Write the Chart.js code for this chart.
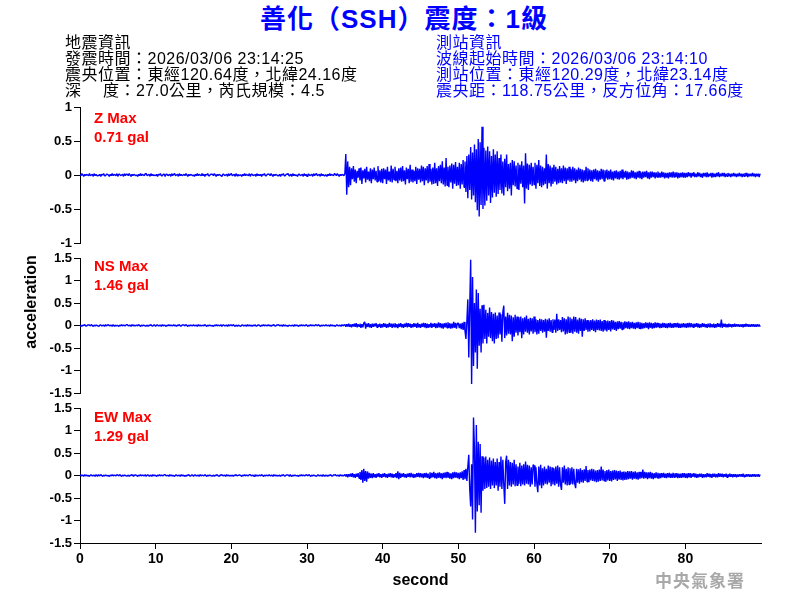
<!DOCTYPE html>
<html>
<head>
<meta charset="utf-8">
<script src="https://cdn.jsdelivr.net/npm/chart.js@4.4.1/dist/chart.umd.min.js"></script>
<style>
  body { margin: 0; background: #fff; }
  #page { position: relative; width: 800px; height: 600px; overflow: hidden;
          font-family: "Liberation Sans", Arial, "Noto Sans CJK TC", sans-serif; }
  canvas { position: absolute; left: 0; }
  .txt { position: absolute; white-space: pre; }
  #title { left: 0; width: 808px; top: 4px; line-height: 30px; text-align: center;
           font-size: 26px; font-weight: bold; color: #0000ff; letter-spacing: 1px; }
  .info { top: 35px; font-size: 16px; line-height: 16px; letter-spacing: 0.5px; }
  #quake { left: 65px; color: #000; }
  #station { left: 436px; color: #0000ff; }
  .peak { left: 94px; font-size: 15px; line-height: 19px; font-weight: bold; color: #ff0000; }
  #yTitle { left: -29px; top: 292px; width: 120px; height: 20px; line-height: 20px; text-align: center;
            font-size: 16px; font-weight: bold; transform: rotate(-90deg); }
  #mark { left: 655px; top: 569px; font-family: "Noto Sans CJK TC", sans-serif; font-size: 17px;
          font-weight: bold; color: #a8a8a8; letter-spacing: 1px; line-height: 22px; }
</style>
</head>
<body>
<div id="page">
  <canvas id="chartZ" width="800" height="170" style="top:90px"></canvas>
  <canvas id="chartNS" width="800" height="160" style="top:246px"></canvas>
  <canvas id="chartEW" width="800" height="204" style="top:396px"></canvas>

  <div id="title" class="txt">善化（SSH）震度：1級</div>
  <div id="quake" class="txt info">地震資訊
發震時間：2026/03/06 23:14:25
震央位置：東經120.64度，北緯24.16度
深　 度：27.0公里，芮氏規模：4.5</div>
  <div id="station" class="txt info">測站資訊
波線起始時間：2026/03/06 23:14:10
測站位置：東經120.29度，北緯23.14度
震央距：118.75公里，反方位角：17.66度</div>

  <div class="txt peak" style="top:108px">Z Max
0.71 gal</div>
  <div class="txt peak" style="top:256px">NS Max
1.46 gal</div>
  <div class="txt peak" style="top:407px">EW Max
1.29 gal</div>

  <div id="yTitle" class="txt">acceleration</div>
  <div id="mark" class="txt">中央氣象署</div>
</div>

<script>
// samples every 0.125 s, 10 values per line, 4 lines = 5 seconds
const SAMPLE_STEP = 0.125;

const zAccel = [
  // 0-5 s
  0.01,-0.01,0.02,0,-0.02,0.01,-0.01,0.01,0,-0.01,
  0.02,-0.01,0,0.01,-0.02,0.02,-0.01,0.01,-0.01,0,
  -0.01,0.01,-0.02,0.01,0,0.02,-0.01,-0.01,0.01,0.01,
  0,-0.02,0.01,-0.01,0.02,-0.01,0.01,0,-0.01,0.02,
  // 5-10 s
  -0.02,0.01,0.01,-0.01,0,0.01,-0.02,0.02,-0.01,0.01,
  0.01,-0.01,0.02,0,-0.02,0.01,-0.01,0.01,0,-0.01,
  0,-0.02,0.01,-0.01,0.02,-0.01,0.01,0,-0.01,0.02,
  0.02,-0.01,0,0.01,-0.02,0.02,-0.01,0.01,-0.01,0,
  // 10-15 s
  -0.01,0.01,-0.02,0.01,0,0.02,-0.01,-0.01,0.01,0.01,
  -0.02,0.01,0.01,-0.01,0,0.01,-0.02,0.02,-0.01,0.01,
  0.02,-0.01,0,0.01,-0.02,0.02,-0.01,0.01,-0.01,0,
  0.01,-0.01,0.02,0,-0.02,0.01,-0.01,0.01,0,-0.01,
  // 15-20 s
  0,-0.02,0.01,-0.01,0.02,-0.01,0.01,0,-0.01,0.02,
  -0.01,0.01,-0.02,0.01,0,0.02,-0.01,-0.01,0.01,0.01,
  0.01,-0.01,0.02,0,-0.02,0.01,-0.01,0.01,0,-0.01,
  -0.02,0.01,0.01,-0.01,0,0.01,-0.02,0.02,-0.01,0.01,
  // 20-25 s
  0.02,-0.01,0,0.01,-0.02,0.02,-0.01,0.01,-0.01,0,
  0,-0.02,0.01,-0.01,0.02,-0.01,0.01,0,-0.01,0.02,
  -0.02,0.01,0.01,-0.01,0,0.01,-0.02,0.02,-0.01,0.01,
  -0.01,0.01,-0.02,0.01,0,0.02,-0.01,-0.01,0.01,0.01,
  // 25-30 s
  0.01,-0.01,0.02,0,-0.02,0.01,-0.01,0.01,0,-0.01,
  -0.01,0.01,-0.02,0.01,0,0.02,-0.01,-0.01,0.01,0.01,
  0.02,-0.01,0,0.01,-0.02,0.02,-0.01,0.01,-0.01,0,
  -0.02,0.01,0.01,-0.01,0,0.01,-0.02,0.02,-0.01,0.01,
  // 30-35 s
  -0.02,0.01,0.01,-0.01,0,0.01,-0.02,0.02,-0.01,0.01,
  0.02,-0.01,0,0.01,-0.02,0.02,-0.01,0.01,-0.01,0,
  0,-0.02,0.01,-0.01,0.02,-0.01,0.01,0,-0.01,0.02,
  0.01,-0.01,0.02,0,-0.02,0.01,-0.01,0.01,0,-0.01,
  // 35-40 s
  0.02,0.31,-0.29,0.2,-0.18,0.12,-0.15,0.1,-0.06,0.13,
  -0.1,0.08,-0.12,0.06,-0.04,0.1,-0.08,0.11,-0.13,0.07,
  -0.05,0.09,-0.11,0.12,-0.07,0.05,-0.09,0.1,-0.12,0.08,
  -0.06,0.11,-0.08,0.06,-0.1,0.13,-0.09,0.07,-0.11,0.09,
  // 40-45 s
  -0.12,0.1,-0.06,0.08,-0.13,0.12,-0.08,0.05,-0.1,0.14,
  -0.11,0.09,-0.07,0.12,-0.09,0.06,-0.12,0.1,-0.08,0.11,
  -0.1,0.13,-0.09,0.07,-0.14,0.11,-0.06,0.09,-0.12,0.15,
  -0.1,0.08,-0.11,0.06,-0.09,0.12,-0.13,0.1,-0.07,0.09,
  // 45-50 s
  -0.11,0.14,-0.09,0.12,-0.15,0.1,-0.08,0.13,-0.12,0.16,
  -0.1,0.09,-0.14,0.11,-0.13,0.18,-0.12,0.1,-0.16,0.13,
  -0.09,0.15,-0.12,0.2,-0.14,0.11,-0.17,0.25,-0.15,0.12,
  -0.18,0.14,-0.11,0.17,-0.2,0.15,-0.13,0.19,-0.16,0.12,
  // 50-55 s
  -0.15,0.18,-0.2,0.16,-0.14,0.22,-0.18,0.2,-0.25,0.28,
  -0.34,0.3,-0.22,0.41,-0.36,0.33,-0.3,0.45,-0.4,0.38,
  -0.52,0.53,-0.61,0.48,-0.44,0.71,-0.5,0.4,-0.45,0.36,
  -0.38,0.42,-0.3,0.35,-0.41,0.28,-0.33,0.38,-0.26,0.3,
  // 55-60 s
  -0.32,0.35,-0.28,0.25,-0.22,0.3,-0.27,0.2,-0.3,0.24,
  -0.18,0.3,-0.24,0.16,-0.2,0.18,-0.3,0.22,-0.15,0.2,
  -0.17,0.14,-0.2,0.18,-0.22,0.15,-0.13,0.2,-0.18,0.14,
  -0.42,0.32,-0.2,0.17,-0.22,0.15,-0.14,0.18,-0.16,0.12,
  // 60-65 s
  -0.14,0.18,-0.2,0.15,-0.12,0.22,-0.16,0.14,-0.18,0.12,
  -0.15,0.1,-0.13,0.3,-0.2,0.16,-0.12,0.14,-0.17,0.11,
  -0.13,0.15,-0.1,0.12,-0.14,0.09,-0.12,0.13,-0.11,0.1,
  -0.12,0.14,-0.09,0.11,-0.13,0.1,-0.08,0.12,-0.1,0.09,
  // 65-70 s
  -0.1,0.12,-0.08,0.1,-0.12,0.08,-0.09,0.11,-0.07,0.09,
  -0.1,0.08,-0.11,0.07,-0.09,0.12,-0.08,0.1,-0.07,0.08,
  -0.09,0.07,-0.1,0.08,-0.06,0.09,-0.08,0.07,-0.1,0.06,
  -0.07,0.09,-0.06,0.08,-0.09,0.07,-0.05,0.08,-0.07,0.06,
  // 70-75 s
  -0.06,0.08,-0.07,0.05,-0.08,0.06,-0.05,0.07,-0.06,0.05,
  -0.07,0.06,-0.05,0.08,-0.06,0.05,-0.04,0.06,-0.07,0.05,
  -0.06,0.04,-0.05,0.07,-0.04,0.06,-0.05,0.04,-0.06,0.05,
  -0.04,0.06,-0.05,0.04,-0.06,0.05,-0.04,0.05,-0.03,0.06,
  // 75-80 s
  -0.05,0.04,-0.06,0.05,-0.04,0.05,-0.03,0.04,-0.05,0.04,
  -0.03,0.05,-0.04,0.03,-0.04,0.05,-0.03,0.04,-0.05,0.03,
  -0.04,0.03,-0.05,0.04,-0.03,0.04,-0.04,0.05,-0.03,0.04,
  -0.03,0.04,-0.05,0.03,-0.04,0.03,-0.03,0.04,-0.04,0.03,
  // 80-85 s
  -0.04,0.03,-0.03,0.04,-0.02,0.03,-0.04,0.03,-0.02,0.04,
  -0.03,0.02,-0.03,0.04,-0.02,0.03,-0.03,0.02,-0.04,0.03,
  -0.02,0.03,-0.03,0.04,-0.03,0.02,-0.02,0.03,-0.04,0.03,
  -0.03,0.02,-0.03,0.03,-0.02,0.04,-0.03,0.02,-0.02,0.03,
  // 85-90 s
  -0.02,0.03,-0.03,0.02,-0.02,0.03,-0.02,0.02,-0.03,0.02,
  -0.02,0.03,-0.02,0.02,-0.03,0.02,-0.02,0.03,-0.02,0.02,
  -0.03,0.02,-0.02,0.03,-0.02,0.03,-0.03,0.02,-0.02,0.02,
  -0.02,0.03,-0.02,0.02,-0.03,0.02,-0.02,0.02,-0.03,0.02
];

const nsAccel = [
  // 0-5 s
  -0.01,0.01,-0.02,0.01,0,0.02,-0.01,-0.01,0.01,0.01,
  0.01,-0.01,0.02,0,-0.02,0.01,-0.01,0.01,0,-0.01,
  -0.02,0.01,0.01,-0.01,0,0.01,-0.02,0.02,-0.01,0.01,
  0.02,-0.01,0,0.01,-0.02,0.02,-0.01,0.01,-0.01,0,
  // 5-10 s
  0,-0.02,0.01,-0.01,0.02,-0.01,0.01,0,-0.01,0.02,
  0.02,-0.01,0,0.01,-0.02,0.02,-0.01,0.01,-0.01,0,
  0.01,-0.01,0.02,0,-0.02,0.01,-0.01,0.01,0,-0.01,
  -0.01,0.01,-0.02,0.01,0,0.02,-0.01,-0.01,0.01,0.01,
  // 10-15 s
  -0.02,0.01,0.01,-0.01,0,0.01,-0.02,0.02,-0.01,0.01,
  0,-0.02,0.01,-0.01,0.02,-0.01,0.01,0,-0.01,0.02,
  -0.01,0.01,-0.02,0.01,0,0.02,-0.01,-0.01,0.01,0.01,
  0.01,-0.01,0.02,0,-0.02,0.01,-0.01,0.01,0,-0.01,
  // 15-20 s
  0.02,-0.01,0,0.01,-0.02,0.02,-0.01,0.01,-0.01,0,
  0.01,-0.01,0.02,0,-0.02,0.01,-0.01,0.01,0,-0.01,
  0,-0.02,0.01,-0.01,0.02,-0.01,0.01,0,-0.01,0.02,
  -0.02,0.01,0.01,-0.01,0,0.01,-0.02,0.02,-0.01,0.01,
  // 20-25 s
  0.01,-0.01,0.02,0,-0.02,0.01,-0.01,0.01,0,-0.01,
  -0.02,0.01,0.01,-0.01,0,0.01,-0.02,0.02,-0.01,0.01,
  -0.01,0.01,-0.02,0.01,0,0.02,-0.01,-0.01,0.01,0.01,
  0,-0.02,0.01,-0.01,0.02,-0.01,0.01,0,-0.01,0.02,
  // 25-30 s
  -0.01,0.01,-0.02,0.01,0,0.02,-0.01,-0.01,0.01,0.01,
  0.02,-0.01,0,0.01,-0.02,0.02,-0.01,0.01,-0.01,0,
  -0.02,0.01,0.01,-0.01,0,0.01,-0.02,0.02,-0.01,0.01,
  0,-0.02,0.01,-0.01,0.02,-0.01,0.01,0,-0.01,0.02,
  // 30-35 s
  0,-0.02,0.01,-0.01,0.02,-0.01,0.01,0,-0.01,0.02,
  0.01,-0.01,0.02,0,-0.02,0.01,-0.01,0.01,0,-0.01,
  0.02,-0.01,0,0.01,-0.02,0.02,-0.01,0.01,-0.01,0,
  -0.02,0.01,0.01,-0.01,0,0.01,-0.02,0.02,-0.01,0.01,
  // 35-40 s
  0.02,-0.03,0.03,-0.02,0.04,-0.03,0.02,-0.04,0.03,-0.02,
  0.04,-0.03,0.05,-0.04,0.03,-0.02,0.04,-0.05,0.03,-0.04,
  0.05,0.08,-0.07,0.04,-0.03,0.05,-0.04,0.03,-0.05,0.04,
  -0.03,0.04,-0.02,0.05,-0.04,0.03,-0.03,0.04,-0.05,0.03,
  // 40-45 s
  -0.04,0.05,-0.03,0.04,-0.05,0.03,-0.04,0.06,-0.03,0.04,
  -0.05,0.04,-0.03,0.05,-0.04,0.03,-0.06,0.04,-0.03,0.05,
  -0.04,0.03,-0.05,0.04,-0.03,0.06,-0.04,0.05,-0.03,0.04,
  -0.05,0.03,-0.04,0.05,-0.03,0.04,-0.05,0.06,-0.04,0.03,
  // 45-50 s
  -0.05,0.04,-0.03,0.06,-0.04,0.05,-0.06,0.04,-0.05,0.03,
  -0.04,0.06,-0.05,0.04,-0.03,0.05,-0.06,0.04,-0.05,0.07,
  -0.04,0.05,-0.06,0.04,-0.07,0.05,-0.04,0.06,-0.05,0.07,
  -0.06,0.05,-0.07,0.04,-0.06,0.08,-0.05,0.06,-0.07,0.05,
  // 50-55 s
  0.05,-0.06,0.04,-0.08,0.06,-0.1,0.08,-0.12,-0.3,0.1,
  0.58,-0.71,0.4,1.46,-1.3,1.08,-0.9,0.5,-0.6,0.8,
  -0.96,0.72,-0.45,0.37,-0.6,0.45,-0.4,0.46,-0.3,0.35,
  -0.4,0.28,-0.25,0.4,-0.28,0.3,-0.35,0.26,-0.4,0.29,
  // 55-60 s
  -0.3,0.22,-0.28,0.29,-0.2,0.25,-0.36,0.3,0.44,-0.28,
  0.2,-0.22,0.28,-0.18,0.24,-0.2,0.22,-0.35,0.18,-0.25,
  0.24,-0.16,0.2,-0.22,0.18,-0.15,0.2,-0.28,0.16,-0.2,
  0.18,-0.14,0.22,-0.16,0.15,-0.2,0.17,-0.13,0.16,-0.18,
  // 60-65 s
  0.2,-0.15,0.14,-0.2,0.12,-0.18,0.15,-0.12,0.14,-0.16,
  0.12,-0.14,0.15,-0.27,0.13,-0.12,0.16,-0.14,0.12,-0.15,
  0.14,-0.1,0.13,-0.16,0.26,-0.12,0.14,-0.1,0.12,-0.15,
  0.19,-0.13,0.16,-0.2,0.14,-0.18,0.2,-0.15,0.18,-0.16,
  // 65-70 s
  0.15,-0.18,0.2,-0.14,0.19,-0.16,0.13,-0.18,0.17,-0.12,
  0.15,-0.25,0.14,-0.12,0.16,-0.1,0.12,-0.14,0.11,-0.13,
  0.12,-0.1,0.14,-0.12,0.11,-0.15,0.13,-0.1,0.12,-0.11,
  0.13,-0.12,0.1,-0.14,0.12,-0.11,0.1,-0.13,0.11,-0.1,
  // 70-75 s
  0.1,-0.13,0.12,-0.09,0.11,-0.1,0.08,-0.12,0.09,-0.08,
  0.1,-0.07,0.08,-0.09,0.07,-0.08,0.09,-0.06,0.08,-0.07,
  0.09,-0.08,0.07,-0.06,0.08,-0.07,0.06,-0.08,0.07,-0.06,
  0.08,-0.06,0.07,-0.08,0.06,-0.07,0.05,-0.06,0.07,-0.05,
  // 75-80 s
  0.06,-0.08,0.07,-0.05,0.06,-0.07,0.05,-0.06,0.07,-0.05,
  0.06,-0.04,0.05,-0.06,0.04,-0.05,0.06,-0.04,0.05,-0.05,
  0.04,-0.06,0.05,-0.04,0.06,-0.05,0.04,-0.05,0.05,-0.04,
  0.05,-0.04,0.06,-0.05,0.04,-0.05,0.04,-0.04,0.05,-0.04,
  // 80-85 s
  0.04,-0.05,0.05,-0.04,0.06,-0.04,0.05,-0.03,0.04,-0.05,
  0.04,-0.03,0.05,-0.04,0.04,-0.05,0.03,-0.04,0.05,-0.03,
  0.04,-0.04,0.03,-0.05,0.04,-0.03,0.05,-0.04,0.03,-0.04,
  0.04,-0.05,0.03,-0.04,0.05,-0.03,0.04,-0.04,0.13,-0.05,
  // 85-90 s
  0.04,-0.03,0.04,-0.04,0.03,-0.04,0.04,-0.03,0.03,-0.04,
  0.03,-0.03,0.04,-0.03,0.03,-0.02,0.03,-0.03,0.02,-0.03,
  0.03,-0.04,0.03,-0.03,0.04,-0.02,0.03,-0.03,0.02,-0.03,
  0.03,-0.02,0.03,-0.03,0.02,-0.03,0.03,-0.02,0.02,-0.03
];

const ewAccel = [
  // 0-5 s
  0.02,-0.01,0,0.01,-0.02,0.02,-0.01,0.01,-0.01,0,
  -0.02,0.01,0.01,-0.01,0,0.01,-0.02,0.02,-0.01,0.01,
  0.01,-0.01,0.02,0,-0.02,0.01,-0.01,0.01,0,-0.01,
  0,-0.02,0.01,-0.01,0.02,-0.01,0.01,0,-0.01,0.02,
  // 5-10 s
  0.01,-0.01,0.02,0,-0.02,0.01,-0.01,0.01,0,-0.01,
  -0.01,0.01,-0.02,0.01,0,0.02,-0.01,-0.01,0.01,0.01,
  0,-0.02,0.01,-0.01,0.02,-0.01,0.01,0,-0.01,0.02,
  -0.02,0.01,0.01,-0.01,0,0.01,-0.02,0.02,-0.01,0.01,
  // 10-15 s
  0,-0.02,0.01,-0.01,0.02,-0.01,0.01,0,-0.01,0.02,
  0.02,-0.01,0,0.01,-0.02,0.02,-0.01,0.01,-0.01,0,
  -0.02,0.01,0.01,-0.01,0,0.01,-0.02,0.02,-0.01,0.01,
  -0.01,0.01,-0.02,0.01,0,0.02,-0.01,-0.01,0.01,0.01,
  // 15-20 s
  -0.02,0.01,0.01,-0.01,0,0.01,-0.02,0.02,-0.01,0.01,
  0.01,-0.01,0.02,0,-0.02,0.01,-0.01,0.01,0,-0.01,
  -0.01,0.01,-0.02,0.01,0,0.02,-0.01,-0.01,0.01,0.01,
  0.02,-0.01,0,0.01,-0.02,0.02,-0.01,0.01,-0.01,0,
  // 20-25 s
  -0.01,0.01,-0.02,0.01,0,0.02,-0.01,-0.01,0.01,0.01,
  0,-0.02,0.01,-0.01,0.02,-0.01,0.01,0,-0.01,0.02,
  0.02,-0.01,0,0.01,-0.02,0.02,-0.01,0.01,-0.01,0,
  0.01,-0.01,0.02,0,-0.02,0.01,-0.01,0.01,0,-0.01,
  // 25-30 s
  0.02,-0.01,0,0.01,-0.02,0.02,-0.01,0.01,-0.01,0,
  -0.01,0.01,-0.02,0.01,0,0.02,-0.01,-0.01,0.01,0.01,
  0.01,-0.01,0.02,0,-0.02,0.01,-0.01,0.01,0,-0.01,
  0,-0.02,0.01,-0.01,0.02,-0.01,0.01,0,-0.01,0.02,
  // 30-35 s
  0.01,-0.01,0.02,0,-0.02,0.01,-0.01,0.01,0,-0.01,
  -0.02,0.01,0.01,-0.01,0,0.01,-0.02,0.02,-0.01,0.01,
  -0.01,0.01,-0.02,0.01,0,0.02,-0.01,-0.01,0.01,0.01,
  0.02,-0.01,0,0.01,-0.02,0.02,-0.01,0.01,-0.01,0,
  // 35-40 s
  0.02,-0.02,0.03,-0.04,0.03,-0.02,0.04,-0.03,0.05,-0.04,
  0.03,-0.05,0.04,-0.03,0.05,-0.06,0.08,-0.1,0.12,-0.16,
  0.15,-0.12,0.1,-0.14,0.09,-0.07,0.06,-0.05,0.04,-0.06,
  0.05,-0.04,0.03,-0.05,0.04,-0.03,0.05,-0.04,0.03,-0.05,
  // 40-45 s
  0.04,-0.03,0.05,-0.04,0.03,-0.05,0.04,-0.03,0.05,-0.04,
  0.04,-0.05,0.03,-0.04,0.05,-0.06,0.09,-0.08,0.06,-0.05,
  0.04,-0.03,0.05,-0.04,0.03,-0.05,0.04,-0.03,0.05,-0.04,
  0.06,-0.03,0.04,-0.05,0.03,-0.04,0.05,-0.03,0.06,-0.04,
  // 45-50 s
  0.05,-0.04,0.04,-0.06,0.05,-0.04,0.06,-0.05,0.04,-0.06,
  0.07,-0.05,0.06,-0.04,0.08,-0.06,0.05,-0.07,0.06,-0.05,
  0.07,-0.06,0.05,-0.08,0.06,-0.05,0.07,-0.06,0.08,-0.05,
  0.06,-0.07,0.05,-0.08,0.07,-0.06,0.08,-0.05,0.07,-0.06,
  // 50-55 s
  0.06,-0.08,0.07,-0.06,0.09,-0.1,0.12,-0.08,0.15,-0.12,
  0.2,0.46,-0.3,-0.69,0.25,-0.98,1.29,0.6,-1.27,1.12,
  -0.8,0.75,-0.66,0.7,-0.83,0.43,-0.34,0.4,-0.3,0.42,
  -0.28,0.35,-0.25,0.4,-0.3,0.33,-0.22,0.38,-0.28,0.3,
  // 55-60 s
  -0.22,0.38,-0.34,0.3,-0.25,0.42,-0.3,0.35,-0.2,-0.63,
  0.3,0.44,-0.3,0.35,-0.22,0.3,-0.25,0.28,-0.2,0.35,
  -0.24,0.25,-0.22,0.2,-0.18,0.28,-0.24,0.22,-0.2,0.25,
  -0.22,0.31,-0.18,0.24,-0.2,0.22,-0.25,0.18,-0.2,0.24,
  // 60-65 s
  0.22,-0.25,0.18,-0.2,-0.37,0.2,-0.22,0.24,-0.28,0.16,
  -0.22,0.2,-0.18,0.15,-0.2,0.22,-0.16,0.2,-0.24,0.18,
  -0.2,0.16,-0.22,0.2,-0.18,0.22,-0.25,0.18,-0.2,-0.32,
  0.18,-0.16,0.22,-0.2,0.15,-0.22,0.18,-0.2,0.16,-0.18,
  // 65-70 s
  0.18,-0.2,0.15,-0.18,-0.28,0.15,-0.16,0.14,-0.18,0.16,
  -0.15,0.12,-0.16,0.14,-0.12,0.21,-0.14,0.12,-0.15,0.13,
  -0.11,0.15,-0.12,0.14,-0.13,0.11,-0.15,0.12,-0.14,0.13,
  -0.12,0.2,-0.11,0.13,-0.12,0.1,-0.14,0.12,-0.11,0.13,
  // 70-75 s
  -0.12,0.1,-0.13,0.11,-0.1,0.12,-0.09,0.11,-0.12,0.1,
  -0.09,0.11,-0.1,0.08,-0.11,0.09,-0.1,0.08,-0.09,0.1,
  -0.08,0.09,-0.07,0.1,-0.09,0.08,-0.07,0.09,-0.08,0.07,
  -0.09,0.08,-0.07,0.08,-0.06,0.13,-0.07,0.08,-0.06,0.07,
  // 75-80 s
  -0.08,0.07,-0.06,0.08,-0.07,0.06,-0.08,0.05,-0.06,0.07,
  -0.05,0.06,-0.07,0.05,-0.06,0.05,-0.04,0.06,-0.05,0.04,
  -0.06,0.05,-0.04,0.06,-0.05,0.04,-0.05,0.06,-0.04,0.05,
  -0.04,0.05,-0.06,0.04,-0.05,0.04,-0.05,0.05,-0.04,0.05,
  // 80-85 s
  -0.05,0.04,-0.06,0.05,-0.04,0.05,-0.05,0.04,-0.03,0.05,
  -0.04,0.04,-0.05,0.03,-0.04,0.04,-0.03,0.04,-0.05,0.03,
  -0.04,0.03,-0.04,0.05,-0.03,0.04,-0.04,0.03,-0.05,0.04,
  -0.03,0.04,-0.04,0.03,-0.04,0.05,-0.03,0.04,-0.03,0.04,
  // 85-90 s
  -0.04,0.03,-0.03,0.04,-0.04,0.03,-0.03,0.04,-0.03,0.03,
  -0.04,0.03,-0.03,0.03,-0.04,0.02,-0.03,0.03,-0.02,0.03,
  -0.03,0.04,-0.03,0.02,-0.03,0.03,-0.02,0.03,-0.03,0.02,
  -0.03,0.03,-0.02,0.03,-0.03,0.02,-0.02,0.03,-0.03,0.02
];

const seconds = zAccel.map((_, i) => i * SAMPLE_STEP);
const xTicks = [0, 10, 20, 30, 40, 50, 60, 70, 80];

Chart.defaults.font.family = "'Liberation Sans', Arial, sans-serif";
Chart.defaults.color = '#000';

function createPanel(canvasId, values, yLimit, showX, padding) {
  const ctx = document.getElementById(canvasId).getContext('2d');
  return new Chart(ctx, {
    type: 'line',
    data: {
      labels: seconds,
      datasets: [{
        data: values,
        borderColor: '#0000ff',
        borderWidth: 1.4,
        borderJoinStyle: 'bevel',
        pointRadius: 0,
        tension: 0,
        fill: false,
      }],
    },
    options: {
      responsive: false,
      animation: false,
      layout: { padding },
      plugins: { legend: { display: false }, tooltip: { enabled: false } },
      scales: {
        x: {
          type: 'linear',
          display: showX,
          min: 0,
          max: 89.99,
          afterFit: (s) => { if (showX) s.height = 57; },
          afterBuildTicks: (s) => { s.ticks = xTicks.map(v => ({ value: v })); },
          border: { display: true, color: '#000', width: 1 },
          grid: { drawOnChartArea: false, tickLength: 6, color: '#000' },
          ticks: { color: '#000', padding: 2, font: { size: 14, weight: 'bold' } },
          title: { display: true, text: 'second', color: '#000',
                   font: { size: 16, weight: 'bold' }, padding: { top: 0, bottom: 10 } },
        },
        y: {
          min: -yLimit,
          max: yLimit,
          afterFit: (s) => { s.width = 80; },
          border: { display: true, color: '#000', width: 1 },
          grid: { drawOnChartArea: false, tickLength: 6, color: '#000' },
          ticks: { stepSize: 0.5, color: '#000', padding: 2, font: { size: 13, weight: 'bold' },
                   callback: (v) => String(v) },
        },
      },
    },
  });
}

// ===== Z component =====
createPanel('chartZ', zAccel, 1, false, { left: 0, right: 39, top: 17, bottom: 17 });
// ===== NS component =====
createPanel('chartNS', nsAccel, 1.5, false, { left: 0, right: 39, top: 12, bottom: 13 });
// ===== EW component =====
createPanel('chartEW', ewAccel, 1.5, true, { left: 0, right: 39, top: 12, bottom: 0 });
</script>
</body>
</html>
